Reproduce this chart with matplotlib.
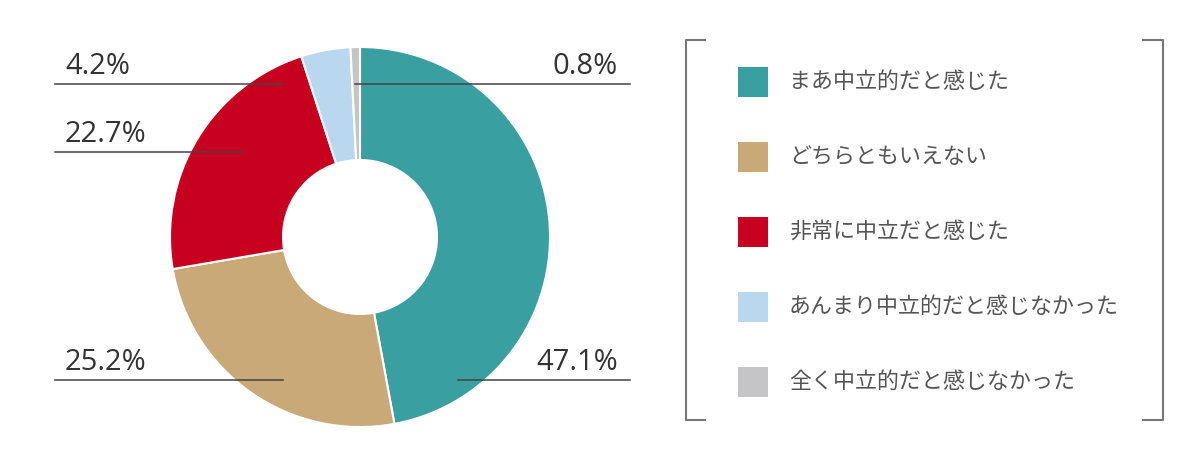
import matplotlib.pyplot as plt
from matplotlib.patches import Rectangle

plt.rcParams['font.family'] = ['Noto Sans CJK JP', 'DejaVu Sans']

# Dane
categories = ['まあ中立的だと感じた', 'どちらともいえない', '非常に中立だと感じた',
              'あんまり中立的だと感じなかった', '全く中立的だと感じなかった']
values = [47.1, 25.2, 22.7, 4.2, 0.8]
colors = ['#3a9fa1', '#c8a977', '#c8001f', '#b9d7ee', '#c5c5c7']

W, H = 1200, 450
fig = plt.figure(figsize=(12, 4.5), dpi=100)
ax = fig.add_axes([0, 0, 1, 1])

cx, cy = 360, H - 237
ax.pie(values, colors=colors, startangle=90, counterclock=False,
       radius=190, center=(cx, cy),
       wedgeprops=dict(width=113, edgecolor='white', linewidth=1.5))

ax.set_xlim(0, W)
ax.set_ylim(0, H)
ax.set_aspect('equal')
ax.axis('off')

# Etykiety z liniami: (y linii, x start, x koniec, po prawej?)
label_pos = [(380, 458, 630, True), (380, 55, 283, False), (152, 55, 243, False),
             (84, 55, 283, False), (84, 355, 630, True)]
for v, (ly, x0, x1, right) in zip(values, label_pos):
    ax.plot([x0, x1], [H - ly, H - ly], color='#444444', lw=1.1, zorder=5)
    if right:
        ax.text(618, H - ly + 10, f'{v}%', ha='right', va='baseline', fontsize=21,
                color='#333333', family='Open Sans', zorder=6)
    else:
        ax.text(65, H - ly + 10, f'{v}%', ha='left', va='baseline', fontsize=21,
                color='#333333', family='Open Sans', zorder=6)

# Legenda z nawiasami
bc = '#777777'
ax.plot([705, 686, 686, 705], [H - 40, H - 40, H - 420, H - 420], color=bc, lw=1.5)
ax.plot([1143, 1163, 1163, 1143], [H - 40, H - 40, H - 420, H - 420], color=bc, lw=1.5)
for i, (cat, col) in enumerate(zip(categories, colors)):
    yy = 82 + i * 75
    ax.add_patch(Rectangle((738, H - yy - 15), 30, 30, facecolor=col, edgecolor='none'))
    ax.text(789, H - yy, cat, ha='left', va='center', fontsize=15.8, color='#555555')

fig.savefig('out.png', dpi=100)
